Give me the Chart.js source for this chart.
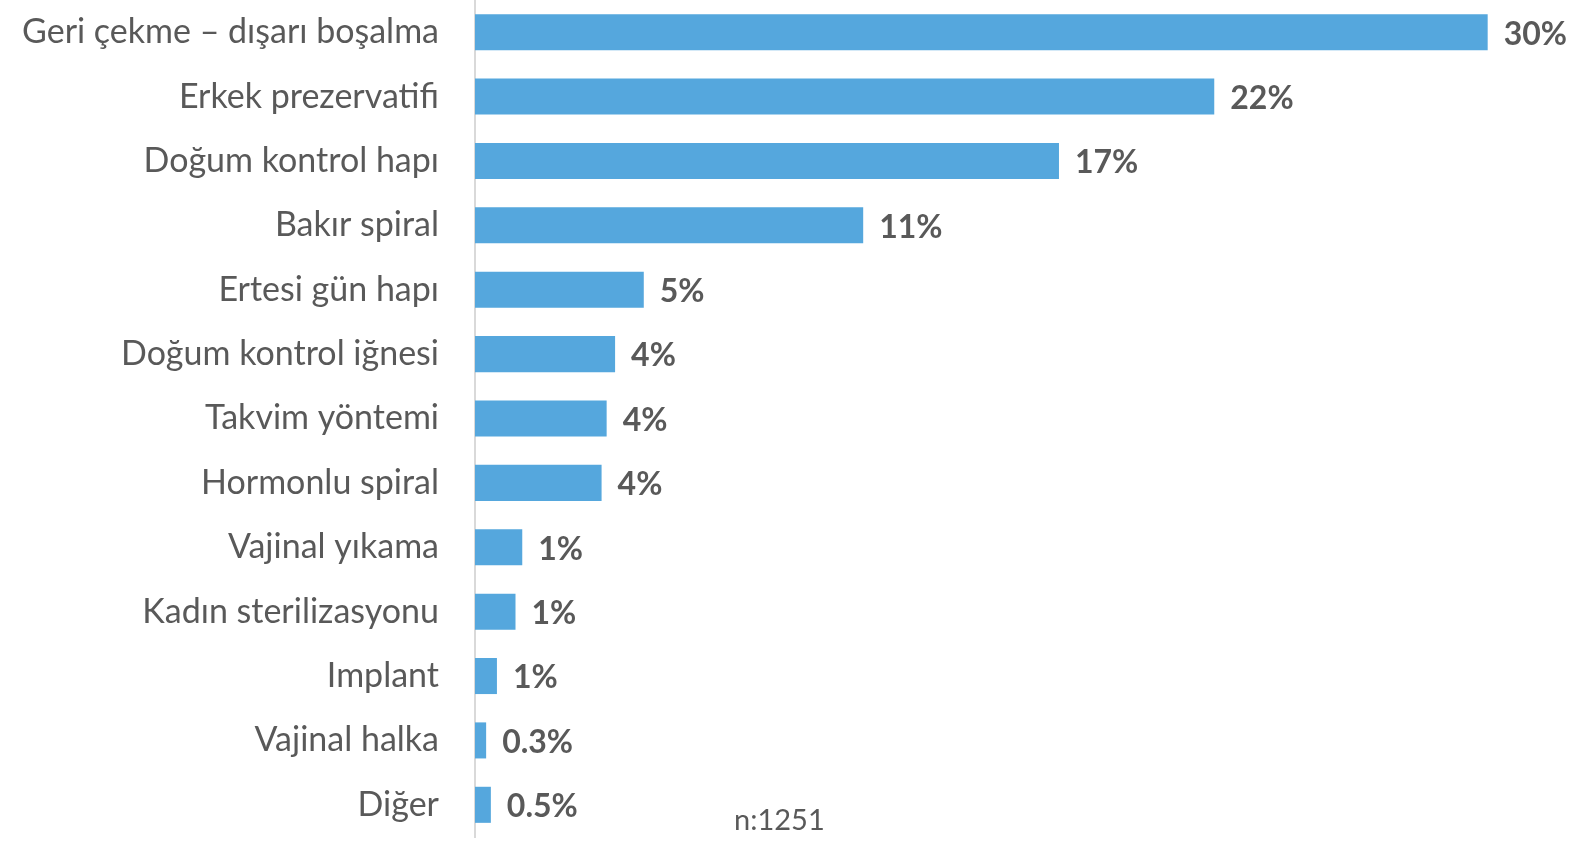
<!DOCTYPE html>
<html>
<head>
<meta charset="utf-8">
<script src="https://cdn.jsdelivr.net/npm/chart.js@4/dist/chart.umd.min.js"></script>
<style>
  html, body { margin: 0; padding: 0; background: #fff; }
  #wrap { width: 1571px; height: 841px; }
</style>
</head>
<body>
<div id="wrap"><canvas id="myChart"></canvas></div>
<script>
var categories = ["Geri çekme – dışarı boşalma", "Erkek prezervatifi", "Doğum kontrol hapı", "Bakır spiral",
    "Ertesi gün hapı", "Doğum kontrol iğnesi", "Takvim yöntemi", "Hormonlu spiral", "Vajinal yıkama",
    "Kadın sterilizasyonu", "Implant", "Vajinal halka", "Diğer"];
var values = [30.0, 21.9, 17.3, 11.5, 5.0, 4.15, 3.9, 3.75, 1.4, 1.2, 0.65, 0.33, 0.47];
var valueLabels = ["30%", "22%", "17%", "11%", "5%", "4%", "4%", "4%", "1%", "1%", "1%", "0.3%", "0.5%"];
var note = "n:1251";

var textColor = "#595959";

var barLabels = {
    id: 'barLabels',
    afterDatasetsDraw: function (chart) {
        var ctx = chart.ctx;
        var meta = chart.getDatasetMeta(0);
        ctx.save();
        ctx.fillStyle = textColor;
        ctx.font = "bold 32px Lato";
        ctx.textAlign = "left";
        ctx.textBaseline = "middle";
        meta.data.forEach(function (bar, i) {
            ctx.fillText(valueLabels[i], bar.x + 16, bar.y + 2);
        });
        ctx.font = "29px Lato";
        ctx.textBaseline = "alphabetic";
        ctx.fillText(note, 734, 830);
        ctx.restore();
    }
};

var ctx = document.getElementById('myChart').getContext('2d');
var barChart = new Chart(ctx, {
    type: 'bar',
    data: {
        labels: categories,
        datasets: [{
            data: values,
            backgroundColor: "#55a7dd",
            barPercentage: 0.56,
            categoryPercentage: 1.0
        }]
    },
    options: {
        indexAxis: 'y',
        responsive: true,
        maintainAspectRatio: false,
        animation: false,
        layout: { padding: { top: 0, bottom: 4, left: 0, right: 31 } },
        plugins: {
            legend: { display: false },
            tooltip: { enabled: false }
        },
        scales: {
            x: {
                display: false,
                min: 0,
                max: 31.55
            },
            y: {
                afterFit: function (scale) {
                    scale.width = 475;
                    scale.paddingTop = 0;
                    scale.paddingBottom = 0;
                },
                grid: { display: false, drawTicks: false },
                border: { display: true, color: "#d9d9d9", width: 2 },
                ticks: {
                    padding: 36,
                    color: textColor,
                    font: { family: "Lato", size: 34 }
                }
            }
        }
    },
    plugins: [barLabels]
});
</script>
</body>
</html>
